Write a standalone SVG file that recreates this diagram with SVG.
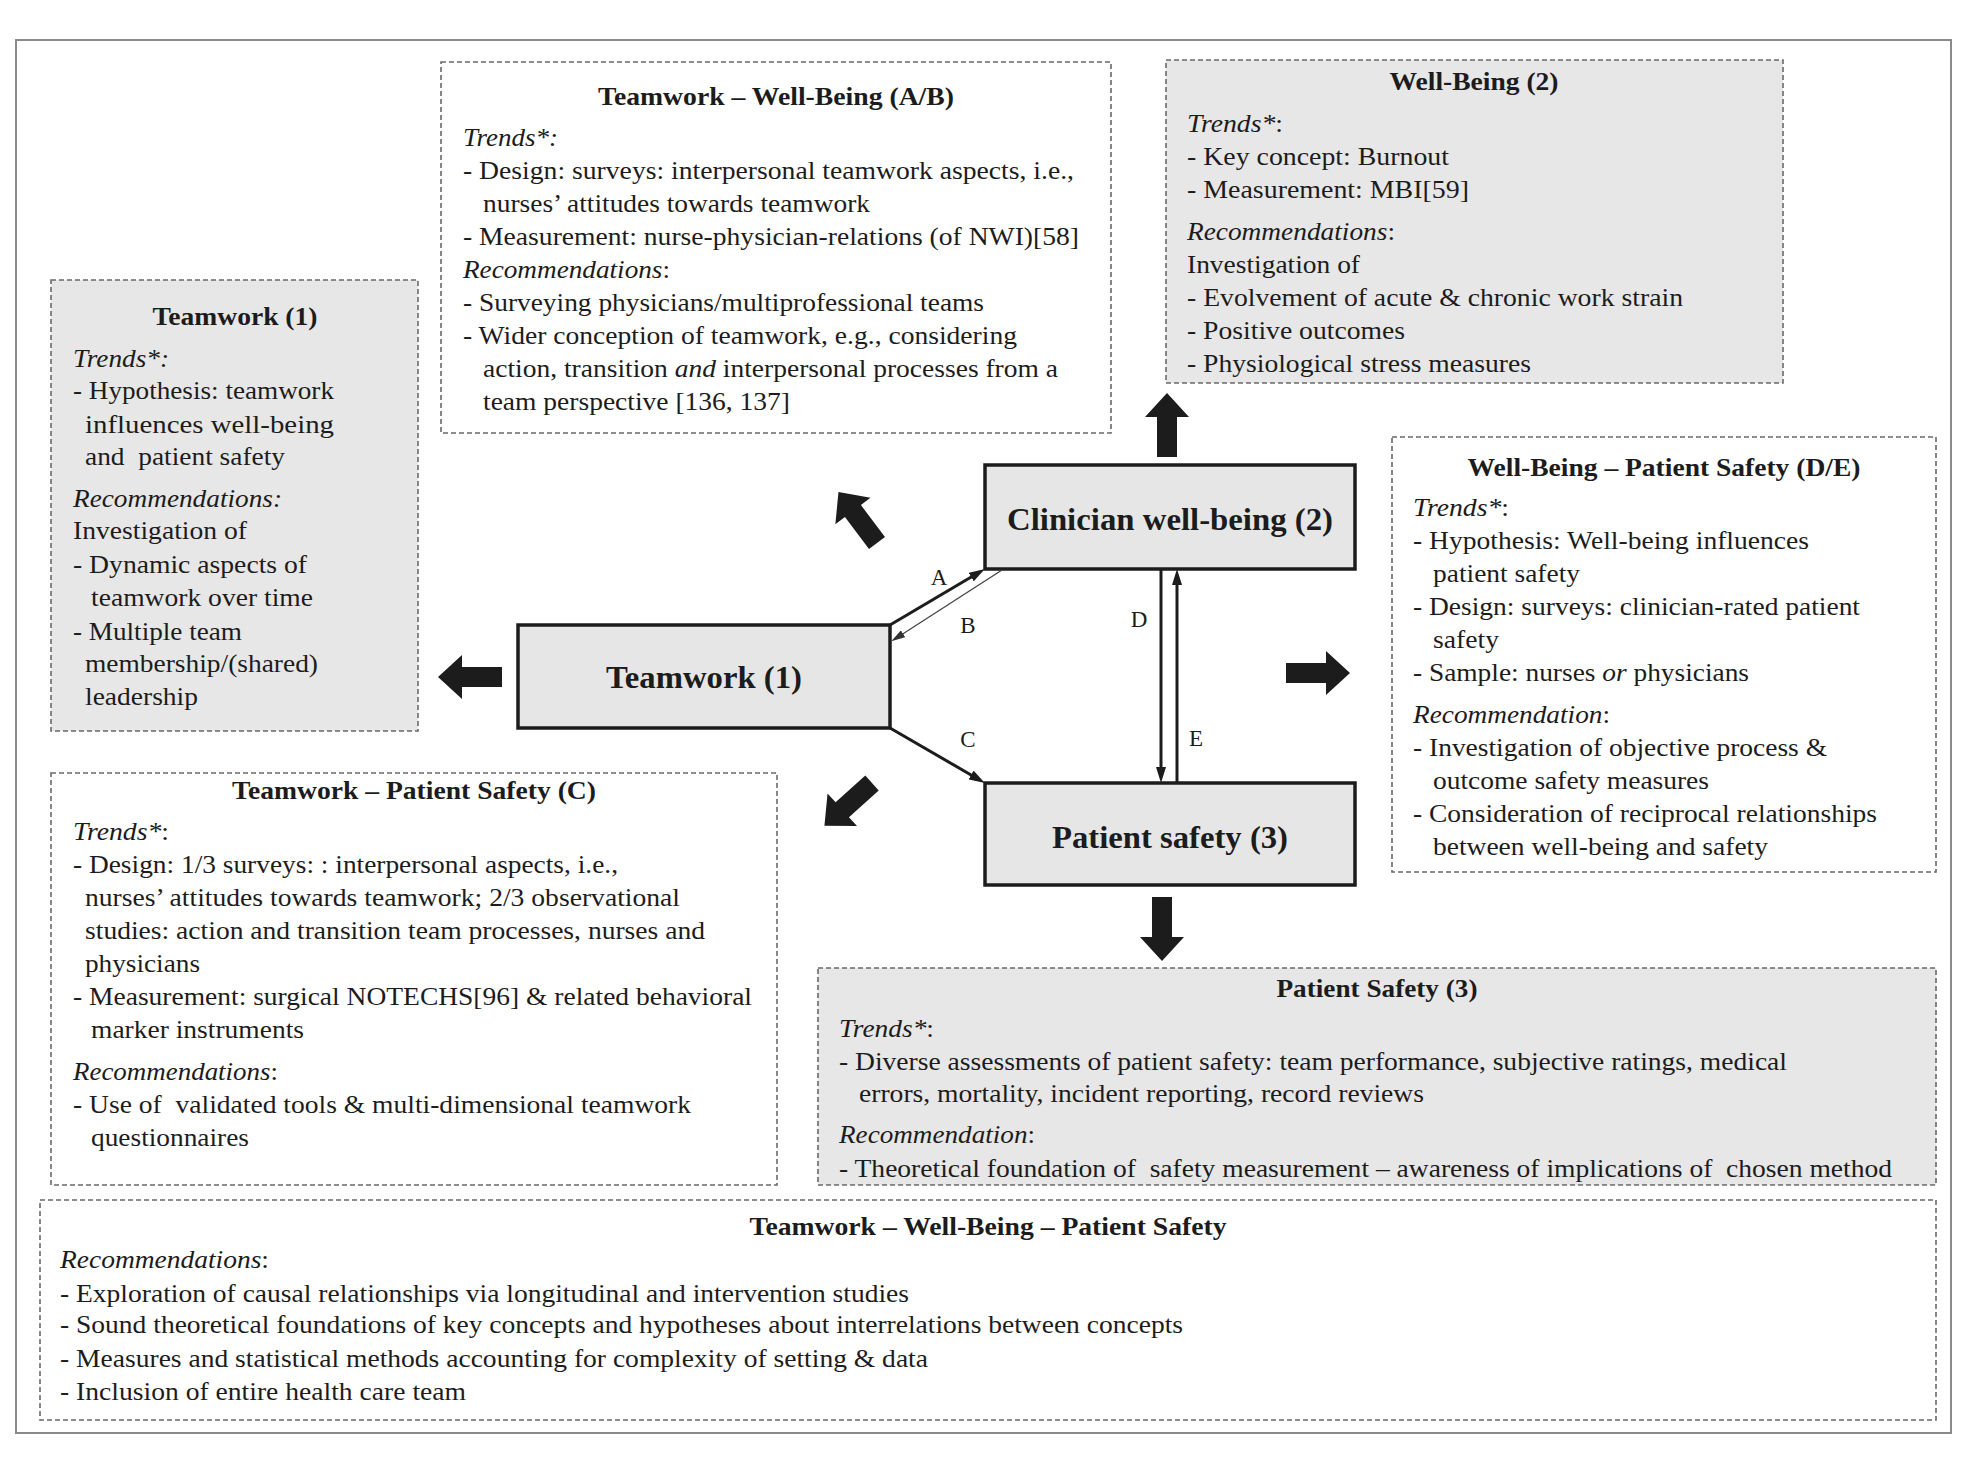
<svg xmlns="http://www.w3.org/2000/svg" width="1966" height="1464" viewBox="0 0 1966 1464">
<style>
text{font-family:"Liberation Serif","Times New Roman",serif;font-size:25px;fill:#1c1c1c;white-space:pre}
.b{font-weight:bold}
.i{font-style:italic}
.n{font-size:32px;font-weight:bold}
.lb{font-size:23px;text-anchor:middle}
.box{stroke:#6a6a6a;stroke-width:1.6;stroke-dasharray:5 3}
.g{fill:#e7e7e7}
.w{fill:#ffffff}
.node{fill:#e6e6e6;stroke:#1c1c1c;stroke-width:3.5}
.c{stroke:#1c1c1c;stroke-width:3;fill:none}
.ct{stroke:#444;stroke-width:1.3;fill:none}
.blk{fill:#1c1c1c}
</style>
<defs>
<marker id="ah" viewBox="0 0 16 10" markerWidth="16" markerHeight="10" refX="8" refY="5" orient="auto" markerUnits="userSpaceOnUse"><path d="M0,0 L16,5 L0,10 z" fill="#1c1c1c"/></marker>
<marker id="ahs" viewBox="0 0 14 8" markerWidth="14" markerHeight="8" refX="6" refY="4" orient="auto" markerUnits="userSpaceOnUse"><path d="M0,0 L14,4 L0,8 z" fill="#333"/></marker>
<path id="blkarrow" d="M0,-10 H40 V-22 L64,0 L40,22 V10 H0 Z"/>
</defs>
<rect x="0" y="0" width="1966" height="1464" fill="#ffffff"/>
<rect x="16" y="40" width="1935" height="1393" fill="none" stroke="#8a8a8a" stroke-width="2"/>

<g id="box-teamwork1">
<rect class="box g" x="51" y="280" width="367" height="451"/>
<text class="b" x="152.5" y="325" textLength="165" lengthAdjust="spacingAndGlyphs">Teamwork (1)</text>
<text class="i" x="73" y="367" textLength="96" lengthAdjust="spacingAndGlyphs">Trends*:</text>
<text x="73" y="399" textLength="261" lengthAdjust="spacingAndGlyphs">- Hypothesis: teamwork</text>
<text x="85" y="433" textLength="249" lengthAdjust="spacingAndGlyphs">influences well-being</text>
<text x="85" y="465" textLength="200" lengthAdjust="spacingAndGlyphs">and  patient safety</text>
<text class="i" x="73" y="507" textLength="209" lengthAdjust="spacingAndGlyphs">Recommendations:</text>
<text x="73" y="539" textLength="174" lengthAdjust="spacingAndGlyphs">Investigation of</text>
<text x="73" y="573" textLength="234" lengthAdjust="spacingAndGlyphs">- Dynamic aspects of</text>
<text x="91" y="606" textLength="222" lengthAdjust="spacingAndGlyphs">teamwork over time</text>
<text x="73" y="640" textLength="169" lengthAdjust="spacingAndGlyphs">- Multiple team</text>
<text x="85" y="672" textLength="233" lengthAdjust="spacingAndGlyphs">membership/(shared)</text>
<text x="85" y="705" textLength="113" lengthAdjust="spacingAndGlyphs">leadership</text>
</g>

<g id="box-teamwork-wellbeing">
<rect class="box w" x="441" y="62" width="670" height="371"/>
<text class="b" x="598" y="105" textLength="356" lengthAdjust="spacingAndGlyphs">Teamwork – Well-Being (A/B)</text>
<text class="i" x="463" y="146" textLength="95" lengthAdjust="spacingAndGlyphs">Trends*:</text>
<text x="463" y="179" textLength="611" lengthAdjust="spacingAndGlyphs">- Design: surveys: interpersonal teamwork aspects, i.e.,</text>
<text x="483" y="212" textLength="387" lengthAdjust="spacingAndGlyphs">nurses’ attitudes towards teamwork</text>
<text x="463" y="245" textLength="616" lengthAdjust="spacingAndGlyphs">- Measurement: nurse-physician-relations (of NWI)[58]</text>
<text x="463" y="278" textLength="207" lengthAdjust="spacingAndGlyphs"><tspan class="i">Recommendations</tspan>:</text>
<text x="463" y="311" textLength="521" lengthAdjust="spacingAndGlyphs">- Surveying physicians/multiprofessional teams</text>
<text x="463" y="344" textLength="554" lengthAdjust="spacingAndGlyphs">- Wider conception of teamwork, e.g., considering</text>
<text x="483" y="377" textLength="575" lengthAdjust="spacingAndGlyphs">action, transition <tspan class="i">and</tspan> interpersonal processes from a</text>
<text x="483" y="410" textLength="307" lengthAdjust="spacingAndGlyphs">team perspective [136, 137]</text>
</g>

<g id="box-wellbeing2">
<rect class="box g" x="1166" y="60" width="617" height="323"/>
<text class="b" x="1389.5" y="90" textLength="169" lengthAdjust="spacingAndGlyphs">Well-Being (2)</text>
<text x="1187" y="132" textLength="96" lengthAdjust="spacingAndGlyphs"><tspan class="i">Trends*</tspan>:</text>
<text x="1187" y="165" textLength="262" lengthAdjust="spacingAndGlyphs">- Key concept: Burnout</text>
<text x="1187" y="198" textLength="282" lengthAdjust="spacingAndGlyphs">- Measurement: MBI[59]</text>
<text x="1187" y="240" textLength="208" lengthAdjust="spacingAndGlyphs"><tspan class="i">Recommendations</tspan>:</text>
<text x="1187" y="273" textLength="173" lengthAdjust="spacingAndGlyphs">Investigation of</text>
<text x="1187" y="306" textLength="496" lengthAdjust="spacingAndGlyphs">- Evolvement of acute &amp; chronic work strain</text>
<text x="1187" y="339" textLength="218" lengthAdjust="spacingAndGlyphs">- Positive outcomes</text>
<text x="1187" y="372" textLength="344" lengthAdjust="spacingAndGlyphs">- Physiological stress measures</text>
</g>

<g id="box-wellbeing-safety">
<rect class="box w" x="1392" y="437" width="544" height="435"/>
<text class="b" x="1467.5" y="476" textLength="393" lengthAdjust="spacingAndGlyphs">Well-Being – Patient Safety (D/E)</text>
<text x="1413" y="516" textLength="96" lengthAdjust="spacingAndGlyphs"><tspan class="i">Trends*</tspan>:</text>
<text x="1413" y="549" textLength="396" lengthAdjust="spacingAndGlyphs">- Hypothesis: Well-being influences</text>
<text x="1433" y="582" textLength="147" lengthAdjust="spacingAndGlyphs">patient safety</text>
<text x="1413" y="615" textLength="447" lengthAdjust="spacingAndGlyphs">- Design: surveys: clinician-rated patient</text>
<text x="1433" y="648" textLength="66" lengthAdjust="spacingAndGlyphs">safety</text>
<text x="1413" y="681" textLength="336" lengthAdjust="spacingAndGlyphs">- Sample: nurses <tspan class="i">or</tspan> physicians</text>
<text x="1413" y="723" textLength="197" lengthAdjust="spacingAndGlyphs"><tspan class="i">Recommendation</tspan>:</text>
<text x="1413" y="756" textLength="414" lengthAdjust="spacingAndGlyphs">- Investigation of objective process &amp;</text>
<text x="1433" y="789" textLength="276" lengthAdjust="spacingAndGlyphs">outcome safety measures</text>
<text x="1413" y="822" textLength="464" lengthAdjust="spacingAndGlyphs">- Consideration of reciprocal relationships</text>
<text x="1433" y="855" textLength="335" lengthAdjust="spacingAndGlyphs">between well-being and safety</text>
</g>

<g id="box-teamwork-safety">
<rect class="box w" x="51" y="773" width="726" height="412"/>
<text class="b" x="232" y="799" textLength="364" lengthAdjust="spacingAndGlyphs">Teamwork – Patient Safety (C)</text>
<text x="73" y="840" textLength="96" lengthAdjust="spacingAndGlyphs"><tspan class="i">Trends*</tspan>:</text>
<text x="73" y="873" textLength="545" lengthAdjust="spacingAndGlyphs">- Design: 1/3 surveys: : interpersonal aspects, i.e.,</text>
<text x="85" y="906" textLength="595" lengthAdjust="spacingAndGlyphs">nurses’ attitudes towards teamwork; 2/3 observational</text>
<text x="85" y="939" textLength="620" lengthAdjust="spacingAndGlyphs">studies: action and transition team processes, nurses and</text>
<text x="85" y="972" textLength="115" lengthAdjust="spacingAndGlyphs">physicians</text>
<text x="73" y="1005" textLength="679" lengthAdjust="spacingAndGlyphs">- Measurement: surgical NOTECHS[96] &amp; related behavioral</text>
<text x="91" y="1038" textLength="213" lengthAdjust="spacingAndGlyphs">marker instruments</text>
<text x="73" y="1080" textLength="205" lengthAdjust="spacingAndGlyphs"><tspan class="i">Recommendations</tspan>:</text>
<text x="73" y="1113" textLength="618" lengthAdjust="spacingAndGlyphs">- Use of  validated tools &amp; multi-dimensional teamwork</text>
<text x="91" y="1146" textLength="158" lengthAdjust="spacingAndGlyphs">questionnaires</text>
</g>

<g id="box-patient-safety3">
<rect class="box g" x="818" y="968" width="1118" height="217"/>
<text class="b" x="1276.5" y="997" textLength="201" lengthAdjust="spacingAndGlyphs">Patient Safety (3)</text>
<text x="839" y="1037" textLength="95" lengthAdjust="spacingAndGlyphs"><tspan class="i">Trends*</tspan>:</text>
<text x="839" y="1070" textLength="948" lengthAdjust="spacingAndGlyphs">- Diverse assessments of patient safety: team performance, subjective ratings, medical</text>
<text x="859" y="1102" textLength="565" lengthAdjust="spacingAndGlyphs">errors, mortality, incident reporting, record reviews</text>
<text x="839" y="1143" textLength="196" lengthAdjust="spacingAndGlyphs"><tspan class="i">Recommendation</tspan>:</text>
<text x="839" y="1177" textLength="1053" lengthAdjust="spacingAndGlyphs">- Theoretical foundation of  safety measurement – awareness of implications of  chosen method</text>
</g>

<g id="box-all">
<rect class="box w" x="40" y="1200" width="1896" height="220"/>
<text class="b" x="749.5" y="1235" textLength="477" lengthAdjust="spacingAndGlyphs">Teamwork – Well-Being – Patient Safety</text>
<text x="60" y="1268" textLength="209" lengthAdjust="spacingAndGlyphs"><tspan class="i">Recommendations</tspan>:</text>
<text x="60" y="1302" textLength="849" lengthAdjust="spacingAndGlyphs">- Exploration of causal relationships via longitudinal and intervention studies</text>
<text x="60" y="1333" textLength="1123" lengthAdjust="spacingAndGlyphs">- Sound theoretical foundations of key concepts and hypotheses about interrelations between concepts</text>
<text x="60" y="1367" textLength="868" lengthAdjust="spacingAndGlyphs">- Measures and statistical methods accounting for complexity of setting &amp; data</text>
<text x="60" y="1400" textLength="406" lengthAdjust="spacingAndGlyphs">- Inclusion of entire health care team</text>
</g>

<g id="node-clinician">
<rect class="node" x="985" y="465" width="370" height="104"/>
<text class="n" x="1007" y="530" textLength="326" lengthAdjust="spacingAndGlyphs">Clinician well-being (2)</text>
</g>
<g id="node-teamwork">
<rect class="node" x="518" y="625" width="372" height="103"/>
<text class="n" x="606" y="688" textLength="196" lengthAdjust="spacingAndGlyphs">Teamwork (1)</text>
</g>
<g id="node-patient">
<rect class="node" x="985" y="783" width="370" height="102"/>
<text class="n" x="1052" y="848" textLength="236" lengthAdjust="spacingAndGlyphs">Patient safety (3)</text>
</g>

<g id="connectors">
<line class="c" x1="890" y1="625" x2="978" y2="573" marker-end="url(#ah)"/>
<line class="ct" x1="1002" y1="570" x2="898" y2="637" marker-end="url(#ahs)"/>
<line class="c" x1="890" y1="728" x2="978" y2="779" marker-end="url(#ah)"/>
<line class="c" x1="1161" y1="569" x2="1161" y2="775" marker-end="url(#ah)"/>
<line class="c" x1="1177" y1="783" x2="1177" y2="577" marker-end="url(#ah)"/>
<text class="lb" x="939" y="585">A</text>
<text class="lb" x="968" y="633">B</text>
<text class="lb" x="968" y="747">C</text>
<text class="lb" x="1139" y="627">D</text>
<text class="lb" x="1196" y="746">E</text>
<use href="#blkarrow" class="blk" transform="translate(502,677) rotate(180)"/>
<use href="#blkarrow" class="blk" transform="translate(1286,673)"/>
<use href="#blkarrow" class="blk" transform="translate(1167,457) rotate(-90)"/>
<use href="#blkarrow" class="blk" transform="translate(1162,897) rotate(90)"/>
<use href="#blkarrow" class="blk" transform="translate(877,543) rotate(-127)"/>
<use href="#blkarrow" class="blk" transform="translate(872,783) rotate(138)"/>
</g>
</svg>
